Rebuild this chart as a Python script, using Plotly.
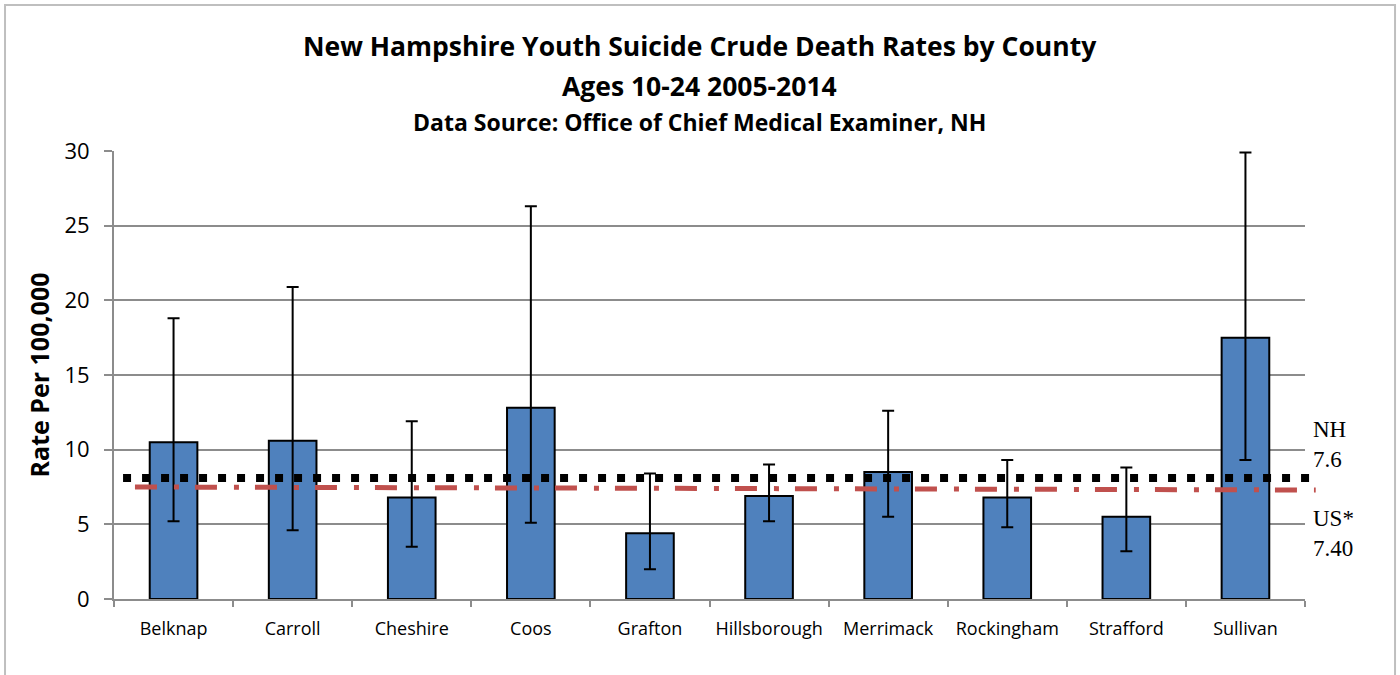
import numpy as np
import plotly.graph_objects as go

counties = ["Belknap", "Carroll", "Cheshire", "Coos", "Grafton",
            "Hillsborough", "Merrimack", "Rockingham", "Strafford", "Sullivan"]
rates = [10.5, 10.6, 6.8, 12.8, 4.4, 6.9, 8.5, 6.8, 5.5, 17.5]
ci_upper = [18.8, 20.9, 11.9, 26.3, 8.4, 9.0, 12.6, 9.3, 8.8, 29.9]
ci_lower = [5.2, 4.6, 3.5, 5.1, 2.0, 5.2, 5.5, 4.8, 3.2, 9.3]

nh_line = 8.1
us_line = [7.5, 7.3]
ref_labels = ["NH<br>7.6", "US*<br>7.40"]

title_lines = [
    "New Hampshire Youth Suicide Crude Death Rates by County",
    "Ages 10-24 2005-2014",
    "Data Source: Office of Chief Medical Examiner, NH",
]

rates_arr = np.array(rates)
err_plus = np.array(ci_upper) - rates_arr
err_minus = rates_arr - np.array(ci_lower)

FONT = "'Open Sans', sans-serif"
SERIF = "'Liberation Serif', 'DejaVu Serif', serif"

fig = go.Figure()
fig.add_trace(go.Bar(
    x=counties,
    y=rates,
    marker=dict(color="#4F81BD", line=dict(color="black", width=2)),
    error_y=dict(type="data", array=err_plus, arrayminus=err_minus,
                 color="black", thickness=2, width=6),
    showlegend=False,
))

shapes = [
    # NH rate, dotted black
    dict(type="line", xref="paper", yref="y", x0=0.0076, x1=1.006,
         y0=nh_line, y1=nh_line,
         line=dict(color="black", width=8, dash="8px,11px")),
    # US rate, red dash-dot
    dict(type="line", xref="paper", yref="y", x0=0.0176, x1=1.009,
         y0=us_line[0], y1=us_line[1],
         line=dict(color="#C0504D", width=5, dash="22px,17px,5px,16px")),
    # outer chart border
    dict(type="rect", xref="paper", yref="paper", x0=-0.0915, x1=1.0756,
         y0=-0.2, y1=1.326, line=dict(color="#BFBFBF", width=2),
         layer="below"),
]

annotations = [
    dict(text=f"<b>{title_lines[0]}</b>", x=0.492, y=1.234, size=26.5),
    dict(text=f"<b>{title_lines[1]}</b>", x=0.492, y=1.145, size=26.5),
    dict(text=f"<b>{title_lines[2]}</b>", x=0.492, y=1.065, size=23),
]
annotations = [
    dict(text=a["text"], x=a["x"], y=a["y"], xref="paper", yref="paper",
         showarrow=False, xanchor="center", yanchor="middle",
         font=dict(family=FONT, size=a["size"], color="black"))
    for a in annotations
]
for lbl, ypos in zip(ref_labels, [0.344, 0.147]):
    annotations.append(dict(
        text=lbl, x=1.0, y=ypos, xref="paper", yref="paper",
        showarrow=False, xanchor="left", yanchor="middle", align="left",
        xshift=6, font=dict(family=SERIF, size=23, color="black"),
    ))

fig.update_layout(
    width=1400, height=675,
    margin=dict(l=114, r=95, t=151, b=76),
    paper_bgcolor="white", plot_bgcolor="white",
    bargap=0.6,
    shapes=shapes,
    annotations=annotations,
    font=dict(family=FONT, color="black"),
)
fig.update_xaxes(
    type="category",
    showline=True, linecolor="#8C8C8C", linewidth=2,
    ticks="outside", tickson="boundaries", ticklen=6, tickcolor="#8C8C8C",
    tickwidth=2, showgrid=False,
    tickfont=dict(family=FONT, size=18, color="black"),
    ticklabelstandoff=12,
)
fig.update_yaxes(
    range=[0, 30], dtick=5,
    showline=True, linecolor="#8C8C8C", linewidth=2,
    ticks="outside", ticklen=8, tickcolor="#8C8C8C", tickwidth=2,
    showgrid=True, gridcolor="#8C8C8C", gridwidth=1.5,
    zeroline=False,
    tickfont=dict(family=FONT, size=22, color="black"),
    ticklabelstandoff=10,
    title=dict(text="<b>Rate Per 100,000</b>", standoff=8,
               font=dict(family=FONT, size=25, color="black")),
)

# drop the default 8px page margin so the figure sits at the window corner
fig.write_html("out.html", config={"displayModeBar": False},
               post_script="document.body.style.margin = '0';")
